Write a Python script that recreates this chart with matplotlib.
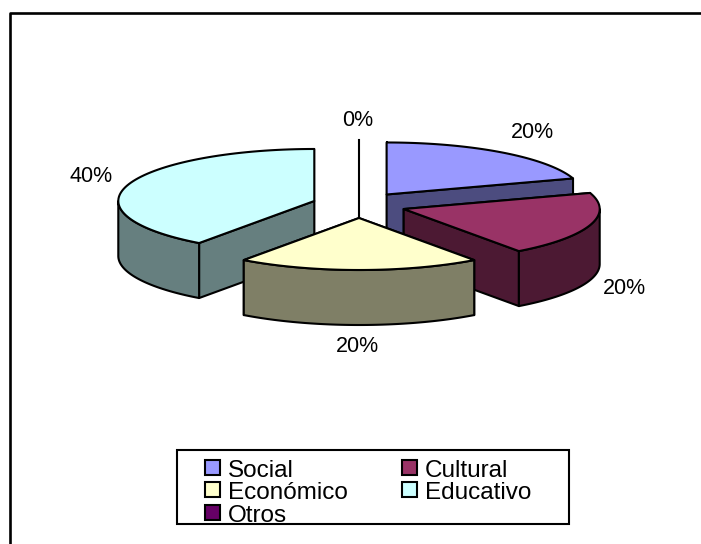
import numpy as np
import matplotlib
matplotlib.use('Agg')
import matplotlib.pyplot as plt
from matplotlib.patches import Polygon, Rectangle

plt.rcParams['font.family'] = ['Liberation Sans', 'DejaVu Sans']

categories = ['Social', 'Cultural', 'Económico', 'Educativo', 'Otros']
values = [20, 20, 20, 40, 0]
labels = ['20%', '20%', '20%', '40%', '0%']
top_colors = ['#9999FF', '#993366', '#FFFFCC', '#CCFFFF', '#660066']
side_colors = ['#4C4C7F', '#4C1933', '#7F7F66', '#667F7F', '#330033']

# pie geometry in pixels
cx, cy = 359, 205
rx, ry = 196, 52
depth = 55
ex, ey = 47, 13
lw = 1.5

fig = plt.figure(figsize=(7.01, 5.44), dpi=100)
ax = fig.add_axes([0, 0, 1, 1])
ax.set_xlim(0, 701)
ax.set_ylim(544, 0)
ax.axis('off')

# the frame only shows on the top and left, the rest is cropped away
ax.plot([9.5, 9.5, 701], [544, 13, 13], color='black', lw=1.9, zorder=1)


def rim(a0, a1, x0, y0):
    t = np.radians(np.linspace(a0, a1, 80))
    return x0 + rx * np.sin(t), y0 - ry * np.cos(t)


# angles go clockwise from 12 o'clock
edges = np.cumsum([0] + values) * 360.0 / sum(values)
slices = []
for i in range(len(values)):
    mid = np.radians((edges[i] + edges[i + 1]) / 2)
    slices.append((cy - ey * np.cos(mid), cx + ex * np.sin(mid), edges[i], edges[i + 1], i))

# leader of the empty slice, the front slice hides its lower end
ax.plot([cx, cx], [cy + ey + 5, 140], color='black', lw=lw, zorder=1)

z = 2
for y0, x0, a0, a1, i in sorted(slices):
    if values[i] == 0:
        continue
    # cut faces
    for a in sorted([a0, a1], key=lambda a: -np.cos(np.radians(a))):
        ex_x, ex_y = rim(a, a, x0, y0)
        face = [(x0, y0), (ex_x[0], ex_y[0]), (ex_x[0], ex_y[0] + depth), (x0, y0 + depth)]
        ax.add_patch(Polygon(face, fc=side_colors[i], ec='black', lw=lw, joinstyle='round', zorder=z))
        z += 1
    # outer wall, only the part facing the viewer
    lo, hi = max(a0, 90), min(a1, 270)
    if lo < hi:
        xs, ys = rim(lo, hi, x0, y0)
        wall = list(zip(xs, ys)) + list(zip(xs[::-1], ys[::-1] + depth))
        ax.add_patch(Polygon(wall, fc=side_colors[i], ec='black', lw=lw, joinstyle='round', zorder=z))
        z += 1
    xs, ys = rim(a0, a1, x0, y0)
    top = [(x0, y0)] + list(zip(xs, ys))
    ax.add_patch(Polygon(top, fc=top_colors[i], ec='black', lw=lw, joinstyle='round', zorder=z))
    z += 1

# percent labels
label_pos = [(532, 133), (624, 288), (357, 347), (91, 177), (358, 120)]
for lab, (lx, ly) in zip(labels, label_pos):
    ax.text(lx, ly, lab, fontsize=15.5, ha='center', va='center', color='black', zorder=50)

# legend
ax.add_patch(Rectangle((177, 450), 392, 74, fc='white', ec='black', lw=lw, zorder=60))
cols = [205, 402]
rows = [460, 482, 505]
for i, name in enumerate(categories):
    sx = cols[i % 2]
    sy = rows[i // 2]
    ax.add_patch(Rectangle((sx, sy), 15, 15, fc=top_colors[i], ec='black', lw=lw, zorder=61))
    ax.text(sx + 23, sy + 17, name, fontsize=17.5, ha='left', va='baseline', color='black', zorder=61)

fig.savefig('out.png', dpi=100)
